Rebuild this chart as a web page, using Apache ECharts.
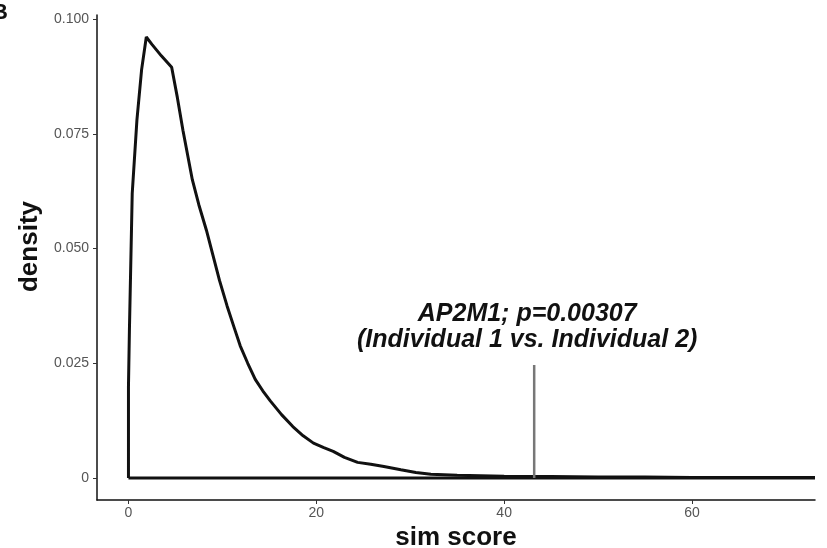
<!DOCTYPE html>
<html>
<head>
<meta charset="utf-8">
<script src="https://cdn.jsdelivr.net/npm/echarts@6/dist/echarts.min.js"></script>
<style>
  html, body { margin: 0; padding: 0; background: #fff; }
  #chart { width: 827px; height: 548px; }
</style>
</head>
<body>
<div id="chart"></div>
<script>
// density curve (sim score, density)
const simScore = [0, 0, 0.1, 0.4, 0.9, 1.4, 1.9, 2.5, 3.5, 4.6, 5.2, 5.8, 6.8, 7.5, 8.3, 9.0, 9.7, 10.5, 11.3, 11.9, 12.7, 13.5, 14.3, 15.1, 16.3, 17.5, 18.6, 19.7, 20.8, 21.8, 23.0, 24.4, 25.8, 27.2, 29.0, 30.6, 32.2, 35, 40, 45, 50, 55, 60, 65, 70, 73.1];
const density = [0, 0.02, 0.032, 0.062, 0.078, 0.089, 0.0961, 0.0945, 0.092, 0.0895, 0.083, 0.0758, 0.065, 0.0595, 0.054, 0.0485, 0.043, 0.0375, 0.0325, 0.0288, 0.025, 0.0215, 0.019, 0.0168, 0.0138, 0.0112, 0.0092, 0.0076, 0.0066, 0.0058, 0.0045, 0.0034, 0.003, 0.0025, 0.0018, 0.0012, 0.0008, 0.0006, 0.0004, 0.0003, 0.0002, 0.0002, 0.0001, 0.0001, 0.0001, 0.0001];

// baseline closing the density outline
const baseX = [0, 73.1];

// observed score
const observedScore = 43.2;
const observedTop = 0.0246;
const observedLabel = 'AP2M1; p=0.00307\n(Individual 1 vs. Individual 2)';

const xTicks = [0, 20, 40, 60];
const yTicks = [0, 0.025, 0.05, 0.075, 0.1];

const chart = echarts.init(document.getElementById('chart'));

const axisCommon = {
  axisLine: { show: true, onZero: false, lineStyle: { color: '#111', width: 1.5 } },
  splitLine: { show: false },
  nameTextStyle: { fontFamily: 'Liberation Sans', fontWeight: 'bold', fontSize: 26, color: '#111' }
};

chart.setOption({
  animation: false,
  grid: { left: 97, right: 12, top: 15, bottom: 48, outerBoundsMode: 'none', containLabel: false },
  xAxis: Object.assign({}, axisCommon, {
    type: 'value',
    min: -3.35,
    max: 73.1,
    name: 'sim score',
    nameLocation: 'middle',
    nameGap: 21,
    axisTick: { show: true, customValues: xTicks, length: 4, lineStyle: { color: '#333' } },
    axisLabel: { customValues: xTicks, fontSize: 14, color: '#555', fontFamily: 'Liberation Sans', margin: 6 }
  }),
  yAxis: Object.assign({}, axisCommon, {
    type: 'value',
    min: -0.0048,
    max: 0.1009,
    name: 'density',
    nameLocation: 'middle',
    nameGap: 52,
    nameTextStyle: Object.assign({}, axisCommon.nameTextStyle, { padding: [0, 0, 0, 22] }),
    axisTick: { show: true, customValues: yTicks, length: 4, lineStyle: { color: '#333' } },
    axisLabel: {
      customValues: yTicks, fontSize: 14, color: '#555', fontFamily: 'Liberation Sans', margin: 8,
      formatter: v => v === 0 ? '0' : v.toFixed(3)
    }
  }),
  graphic: [{
    type: 'text', left: -8, top: 2,
    style: { text: 'B', font: 'bold 22px "Liberation Sans"', fill: '#111' }
  }],
  series: [
    {
      type: 'line',
      data: simScore.map((x, i) => [x, density[i]]),
      showSymbol: false,
      lineStyle: { color: '#111', width: 3 },
      clip: true
    },
    {
      type: 'line',
      data: baseX.map(x => [x, 0]),
      showSymbol: false,
      lineStyle: { color: '#111', width: 3 }
    },
    {
      type: 'line',
      data: [[observedScore, 0], [observedScore, observedTop]],
      showSymbol: false,
      lineStyle: { color: '#777', width: 2.5 },
      markPoint: {
        symbol: 'circle',
        symbolSize: 0,
        data: [{ coord: [observedScore, observedTop] }],
        label: {
          show: true, position: 'top', distance: 12, offset: [-7, 0],
          formatter: observedLabel,
          fontFamily: 'Liberation Sans', fontWeight: 'bold', fontStyle: 'italic',
          fontSize: 25, lineHeight: 26, color: '#111', align: 'center'
        }
      }
    }
  ]
});
</script>
</body>
</html>
